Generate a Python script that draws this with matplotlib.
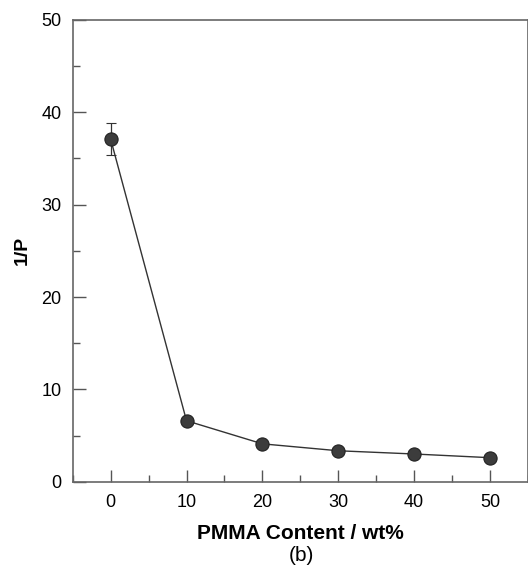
import matplotlib.pyplot as plt
from matplotlib.ticker import MultipleLocator

plt.rcParams['font.family'] = ['Liberation Sans', 'DejaVu Sans']

pmma = [0, 10, 20, 30, 40, 50]
inv_p = [37.1, 6.6, 4.1, 3.35, 3.0, 2.6]
inv_p_err = [1.7, 0.3, 0.2, 0.15, 0.15, 0.1]

fig = plt.figure(figsize=(5.28, 5.74), dpi=100)
ax = fig.add_axes([0.1377, 0.1608, 0.8623, 0.8044])

ax.errorbar(pmma, inv_p, yerr=inv_p_err, color='#333333', lw=1.0,
            marker='o', ms=9.5, mfc='#3c3c3c', mec='#222222', mew=0.8,
            ecolor='#333333', elinewidth=0.9, capsize=3.5, capthick=0.9)

ax.set_xlim(-5, 55)
ax.set_ylim(0, 50)
ax.xaxis.set_major_locator(MultipleLocator(10))
ax.xaxis.set_minor_locator(MultipleLocator(5))
ax.yaxis.set_major_locator(MultipleLocator(10))
ax.yaxis.set_minor_locator(MultipleLocator(5))
ax.tick_params(which='both', direction='in', colors='#555555',
               labelcolor='black', labelsize=13, width=1.0)
ax.tick_params(which='major', length=9)
ax.tick_params(which='minor', length=5)
ax.tick_params(axis='x', pad=9)
ax.tick_params(axis='y', pad=8)
for s in ax.spines.values():
    s.set_color('#666666')
    s.set_linewidth(1.2)

ax.set_xlabel('PMMA Content / wt%', fontsize=15, fontweight='bold', labelpad=9)
ax.set_ylabel('1/P', fontsize=14, fontweight='bold', labelpad=8)
fig.text(0.57, 0.033, '(b)', fontsize=15, ha='center', va='center')

fig.savefig('out.png', dpi=100)
